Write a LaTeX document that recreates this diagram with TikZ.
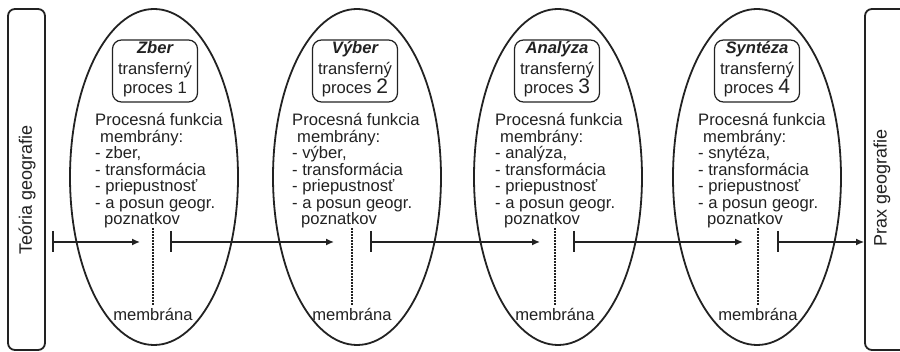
\documentclass[tikz,border=0pt]{standalone}
\usepackage{fontspec}
\setmainfont{Liberation Sans}
\usetikzlibrary{shapes.geometric,arrows.meta}
\definecolor{ink}{HTML}{222222}
\newcommand{\bodyat}[7]{% #1 left x, #2 name, #3 item
  \node[bl] (#2p1) at (#1,126) {Procesná funkcia};
  \node[bl] (#2p2) at (#1+5,142.5) {membrány:};
  \node[bl] (#2p3) at (#1,159) {- #3};
  \node[bl] (#2p4) at (#1,175.5) {- transformácia};
  \node[bl] (#2p5) at (#1,192) {- priepustnosť};
  \node[bl] (#2p6) at (#1,208.5) {- a posun geogr.};
  \node[bl] (#2p7) at (#1+9,225) {poznatkov};
  % title box
  \node[tbox] (#2box) at (#4,71) {};
  \node[tl] (#2t1) at (#4,54) {\bfseries\itshape #5};
  \node[tl] (#2t2) at (#4,75) {transferný};
  \node[tl] (#2t3) at (#4,94) {proces #6};
  % membrane
  \coordinate (#2mt) at (#7,228);
  \coordinate (#2mb) at (#7,305);
  \draw[dotl] (#2mt) -- (#2mb);
  \node[tl] (#2ml) at (#7,321) {membrána};
}
\begin{document}
\begin{tikzpicture}[x=1pt,y=-1pt,
  every node/.style={text=ink},
  memb/.style={ellipse,draw=ink,line width=1.8pt,minimum width=168pt,minimum height=336pt,inner sep=0pt},
  tbox/.style={draw=ink,rounded corners=9pt,line width=1.2pt,minimum width=85pt,minimum height=62pt,inner sep=0pt},
  bl/.style={anchor=base west,inner sep=0pt,font=\fontsize{16.6}{17}\selectfont},
  tl/.style={anchor=base,inner sep=0pt,font=\fontsize{16.6}{17}\selectfont},
  side/.style={draw=ink,rounded corners=7pt,line width=1.8pt,inner sep=0pt},
  sidetext/.style={rotate=90,inner sep=0pt,font=\fontsize{18}{20}\selectfont},
  flow/.style={draw=ink,line width=1.4pt,-{Latex[length=8pt,width=7pt]}},
  stopbar/.style={draw=ink,line width=2.6pt},
  dotl/.style={draw=ink,line width=2.4pt,dash pattern=on 2pt off 1pt}
]
\useasboundingbox (0,0) rectangle (900,352);
\clip (0,0) rectangle (900,352);
\fill[white] (0,0) rectangle (900,352);

% side boxes
\node[side,minimum width=37pt,minimum height=341pt] (teoria) at (26.5,179.5) {};
\node[sidetext] (teoriat) at (27,190) {Teória geografie};
\node[side,minimum width=44pt,minimum height=341pt] (prax) at (887,179.5) {};
\node[sidetext] (praxt) at (882,188) {Prax geografie};

% ellipses
\node[memb] (e1) at (154,177) {};
\node[memb] (e2) at (357,177) {};
\node[memb] (e3) at (558,177) {};
\node[memb] (e4) at (757,177) {};

\bodyat{95}{A}{zber,}{155}{Zber}{1}{153}
\bodyat{292}{B}{výber,}{355}{Výber}{\fontsize{21}{21}\selectfont 2}{352}
\bodyat{495}{C}{analýza,}{557}{Analýza}{\fontsize{21}{21}\selectfont 3}{555}
\bodyat{698}{D}{snytéza,}{757}{Syntéza}{\fontsize{21}{21}\selectfont 4}{758}

% flow arrows
\coordinate (s1) at (53,242);  \coordinate (h1) at (140,242);
\coordinate (s2) at (171,242); \coordinate (h2) at (334,242);
\coordinate (s3) at (371,242); \coordinate (h3) at (540,242);
\coordinate (s4) at (574,242); \coordinate (h4) at (743,242);
\coordinate (s5) at (778,242);
\foreach \i in {1,...,5}{\draw[stopbar] (s\i) ++(0,-11) -- ++(0,21);}
\draw[flow] (s1) -- (h1);
\draw[flow] (s2) -- (h2);
\draw[flow] (s3) -- (h3);
\draw[flow] (s4) -- (h4);
\draw[flow] (s5) -- (s5 -| prax.west);
\end{tikzpicture}
\end{document}
